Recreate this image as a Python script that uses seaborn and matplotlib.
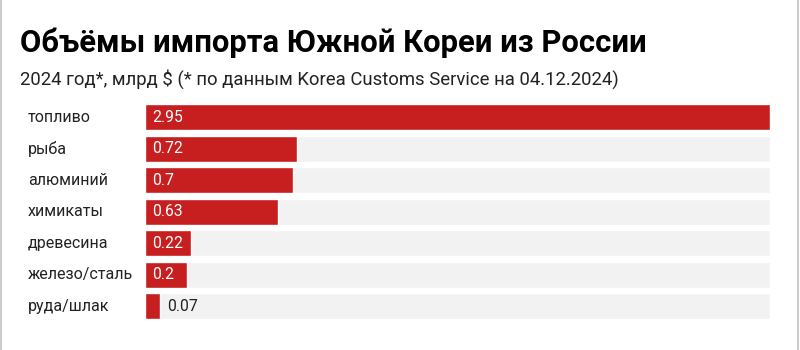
import matplotlib
matplotlib.use("Agg")
import matplotlib.pyplot as plt
import matplotlib.transforms as mtransforms
import seaborn as sns
import pandas as pd

categories = ["топливо", "рыба", "алюминий", "химикаты", "древесина", "железо/сталь", "руда/шлак"]
values = [2.95, 0.72, 0.7, 0.63, 0.22, 0.2, 0.07]
value_labels = ["2.95", "0.72", "0.7", "0.63", "0.22", "0.2", "0.07"]

title = "Объёмы импорта Южной Кореи из России"
subtitle = "2024 год*, млрд $ (* по данным Korea Customs Service на 04.12.2024)"

sns.set_theme(style="white")
plt.rcParams["font.family"] = ["Roboto", "DejaVu Sans"]

RED = "#C71F1F"
GRAY = "#F2F2F2"

df = pd.DataFrame({"cat": categories, "val": values})
df["bg"] = max(values)

fig = plt.figure(figsize=(8, 3.5), dpi=100)
fig.patch.set_facecolor("white")
ax = fig.add_axes([0.181, 0.08, 0.9625 - 0.181, 0.63])

sns.barplot(data=df, x="bg", y="cat", orient="h", color=GRAY, width=0.83,
            saturation=1, ax=ax)
sns.barplot(data=df, x="val", y="cat", orient="h", color=RED, width=0.83,
            saturation=1, ax=ax)

ax.set_xlim(0, max(values))
ax.set_ylim(len(categories) - 0.5, -0.5)
for s in ax.spines.values():
    s.set_visible(False)
ax.set_xticks([])
ax.set_yticks([])
ax.set_xlabel("")
ax.set_ylabel("")

trans = mtransforms.blended_transform_factory(fig.transFigure, ax.transData)
xoff = mtransforms.offset_copy(ax.transData, fig=fig, x=7, y=0, units="dots")
for i, (c, v, lab) in enumerate(zip(categories, values, value_labels)):
    ax.text(28 / 800, i, c, transform=trans, ha="left", va="center",
            fontsize=11.5, color="#222222")
    if v > 0.15:
        ax.text(0, i, lab, transform=xoff, ha="left", va="center",
                fontsize=11.3, color="white")
    else:
        ax.text(v, i, lab, transform=xoff, ha="left", va="center",
                fontsize=11.3, color="#222222")

fig.text(20 / 800, 1 - 43 / 350, title, fontsize=22.3, fontweight="bold",
         color="black", va="center", ha="left")
fig.text(20 / 800, 1 - 79 / 350, subtitle, fontsize=13.3,
         color="#222222", va="center", ha="left")

fig.add_artist(plt.Line2D([0.001, 0.001], [0, 1], color="#CCCCCC", lw=1.5,
                          transform=fig.transFigure))
fig.add_artist(plt.Line2D([0.998, 0.998], [0, 1], color="#CCCCCC", lw=1.5,
                          transform=fig.transFigure))

fig.savefig("out.png", dpi=100, facecolor="white")
